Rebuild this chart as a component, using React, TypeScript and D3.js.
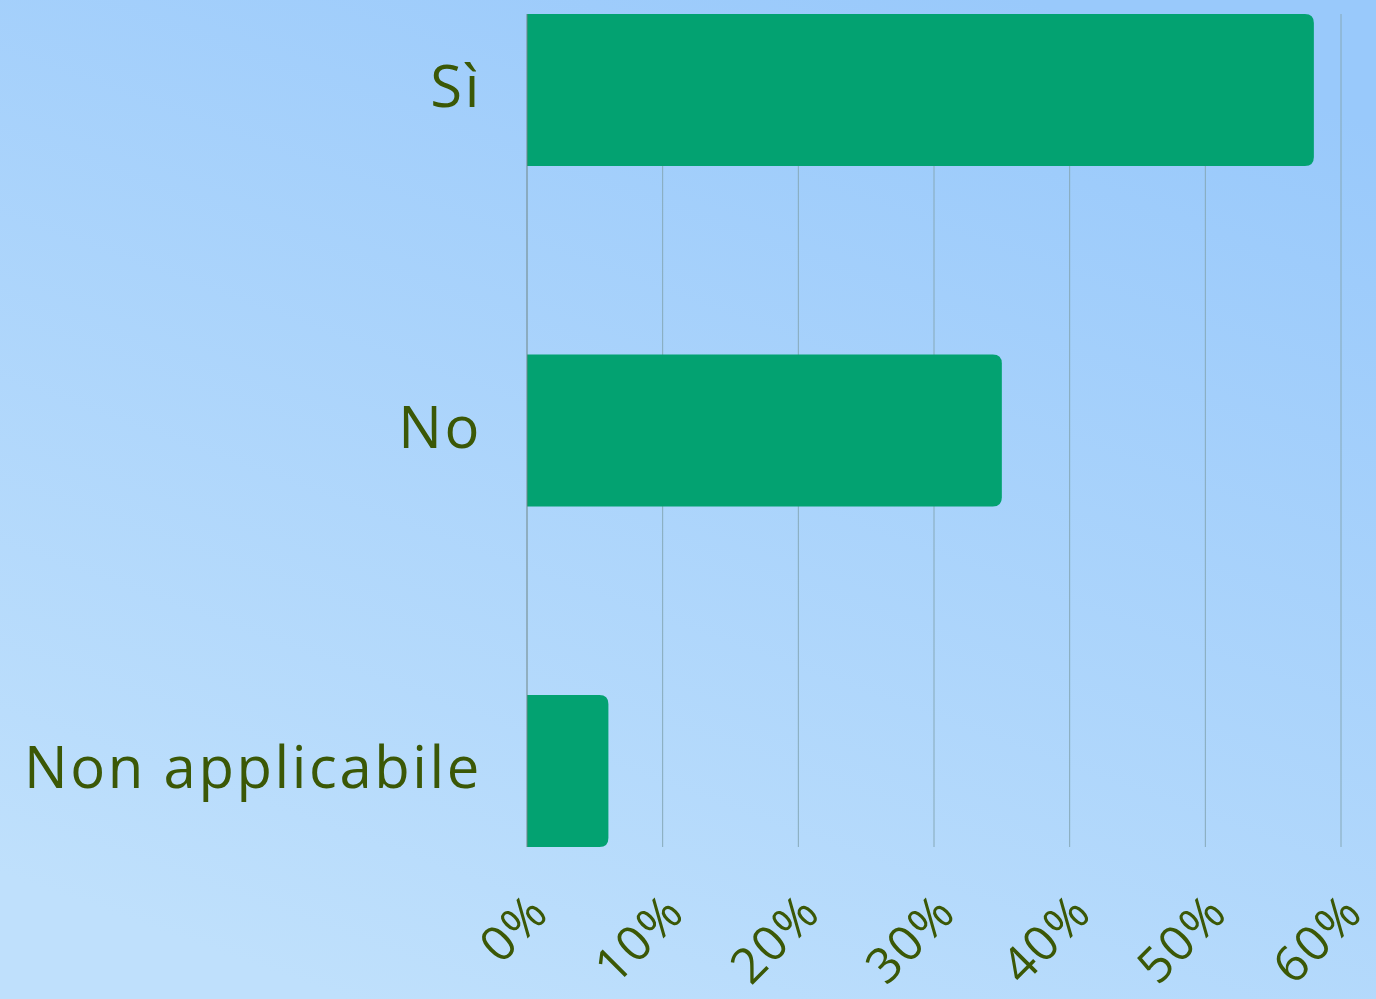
import React from "react";
import * as d3 from "d3";

const categories = ["Sì", "No", "Non applicabile"];
const values = [58, 35, 6];
const tickValues = [0, 10, 20, 30, 40, 50, 60];

const W = 1376;
const H = 999;
const M = { left: 527, right: 1341, top: 14, bottom: 847 };
const TEXT = "#3b5806";
const BAR = "#03a271";
const FONT = "'Open Sans', 'Noto Sans', sans-serif";

export default function App() {
  const x = d3.scaleLinear().domain([0, 60]).range([M.left, M.right]);
  const y = d3
    .scaleBand<string>()
    .domain(categories)
    .range([M.top, M.bottom])
    .paddingInner(0.5536)
    .paddingOuter(0);
  const bw = y.bandwidth();
  const r = 9;

  const barPath = (v: number, c: string) => {
    const x0 = x(0);
    const x1 = x(v);
    const y0 = y(c)!;
    const y1 = y0 + bw;
    const rr = Math.min(r, (x1 - x0) / 2);
    return `M${x0},${y0}H${x1 - rr}Q${x1},${y0} ${x1},${y0 + rr}V${y1 - rr}Q${x1},${y1} ${x1 - rr},${y1}H${x0}Z`;
  };

  return (
    <svg
      width={W}
      height={H}
      style={{ position: "absolute", left: 0, top: 0, display: "block" }}
    >
      <defs>
        <linearGradient id="bg" x1="0.75" y1="0" x2="0.25" y2="1">
          <stop offset="0%" stopColor="#99c9fb" />
          <stop offset="100%" stopColor="#bfe0fc" />
        </linearGradient>
      </defs>
      <rect x={0} y={0} width={W} height={H} fill="url(#bg)" />
      {tickValues.slice(1).map((t) => (
        <line
          key={"g" + t}
          x1={x(t)}
          x2={x(t)}
          y1={M.top}
          y2={M.bottom}
          stroke="#86a9b8"
          strokeWidth={1}
        />
      ))}
      {categories.map((c, i) => (
        <path key={c} d={barPath(values[i], c)} fill={BAR} />
      ))}
      <line
        x1={x(0)}
        x2={x(0)}
        y1={M.top}
        y2={M.bottom}
        stroke="#6f8584"
        strokeWidth={1}
      />
      {categories.map((c) => (
        <text
          key={"l" + c}
          x={482}
          y={y(c)! + bw / 2 + 17}
          textAnchor="end"
          fontFamily={FONT}
          fontSize={58}
          letterSpacing={2.6}
          fill={TEXT}
        >
          {c}
        </text>
      ))}
      {tickValues.map((t) => (
        <text
          key={"t" + t}
          transform={`translate(${x(t) + 24},${915}) rotate(-45)`}
          textAnchor="end"
          fontFamily={FONT}
          fontSize={49}
          letterSpacing={1.5}
          fill={TEXT}
        >
          {t + "%"}
        </text>
      ))}
    </svg>
  );
}
